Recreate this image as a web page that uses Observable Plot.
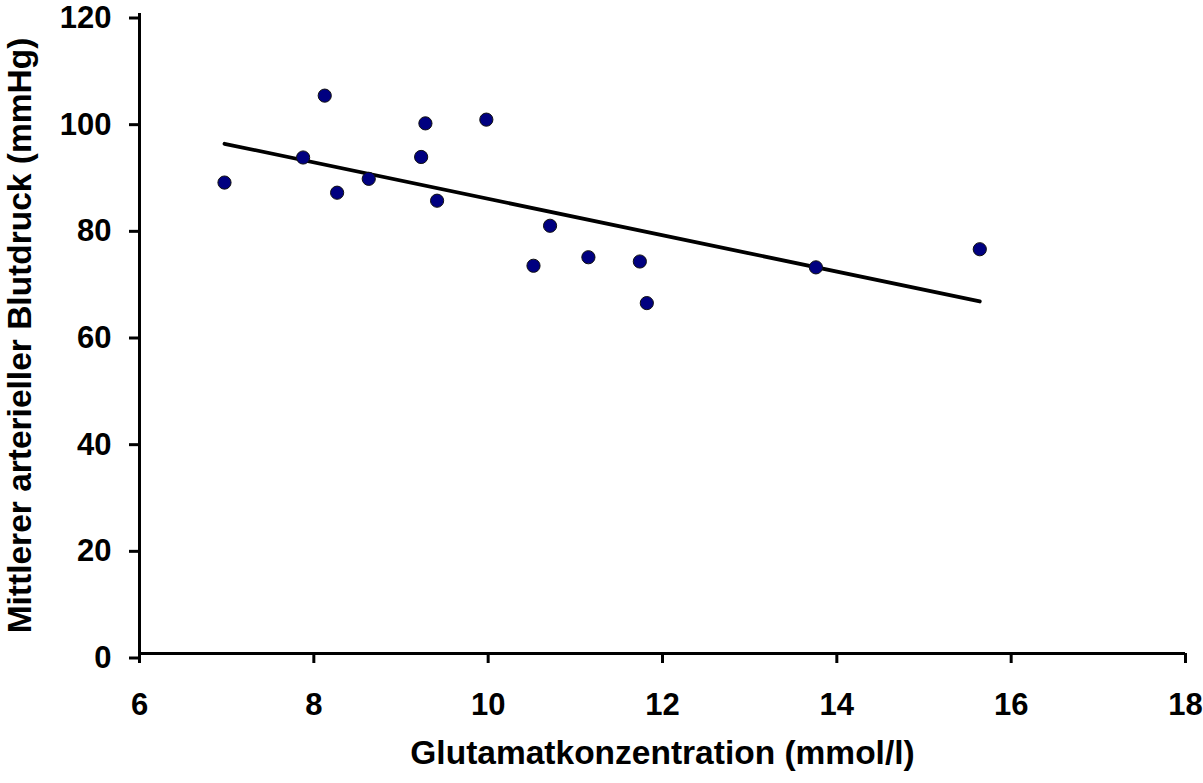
<!DOCTYPE html>
<html>
<head>
<meta charset="utf-8">
<script src="https://cdn.jsdelivr.net/npm/d3@7"></script>
<script src="https://cdn.jsdelivr.net/npm/@observablehq/plot@0.6"></script>
<style>
  html, body { margin: 0; padding: 0; background: #fff; }
</style>
</head>
<body>
<div id="chart"></div>
<script>
const glutamat = [6.975, 7.877, 8.125, 8.267, 8.63, 9.231, 9.28, 9.414, 9.979, 10.52, 10.71, 11.15, 11.74, 11.82, 13.76, 15.64];
const blutdruck = [88.3, 93.0, 104.6, 86.4, 89.0, 93.1, 99.4, 84.9, 100.1, 72.7, 80.2, 74.3, 73.5, 65.7, 72.4, 75.8];
const xTicks = [6, 8, 10, 12, 14, 16, 18];
const yTicks = [0, 20, 40, 60, 80, 100, 120];
const xTitle = "Glutamatkonzentration (mmol/l)";
const yTitle = "Mittlerer arterieller Blutdruck (mmHg)";

const data = glutamat.map((g, i) => ({x: g, y: blutdruck[i]}));

const font = "'Liberation Sans', Arial, Helvetica, sans-serif";

const chart = Plot.plot({
  width: 1203,
  height: 783,
  marginLeft: 139,
  marginRight: 18,
  marginTop: 13,
  marginBottom: 130,
  style: {fontFamily: font, fontWeight: "bold", fontSize: "31px", color: "#000", background: "#fff", overflow: "visible"},
  x: {domain: [6, 18]},
  y: {domain: [0, 120]},
  marks: [
    Plot.axisX({ticks: xTicks, tickSize: 10, tickPadding: 29, strokeWidth: 3, label: null, fontSize: 31, fontWeight: "bold"}),
    Plot.axisY({ticks: yTicks, tickSize: 10, tickPadding: 18, dy: 4.5, strokeWidth: 3, label: null, fontSize: 31, fontWeight: "bold"}),
    Plot.ruleX([6], {stroke: "#000", strokeWidth: 3}),
    Plot.ruleY([0], {stroke: "#000", strokeWidth: 3}),
    Plot.linearRegressionY(data, {x: "x", y: "y", stroke: "#000", strokeWidth: 3.8, ci: 0}),
    Plot.dot(data, {x: "x", y: "y", r: 6.6, fill: "#000080", stroke: "#111", strokeWidth: 1}),
    Plot.text([xTitle], {frameAnchor: "bottom", text: d => d, dy: 110, fontSize: 33.5, fontWeight: "bold", fill: "#000"}),
    Plot.text([yTitle], {frameAnchor: "left", textAnchor: "middle", text: d => d, dx: -119, dy: 2, rotate: -90, fontSize: 33.5, fontWeight: "bold", fill: "#000"})
  ]
});
document.getElementById("chart").appendChild(chart);
</script>
</body>
</html>
